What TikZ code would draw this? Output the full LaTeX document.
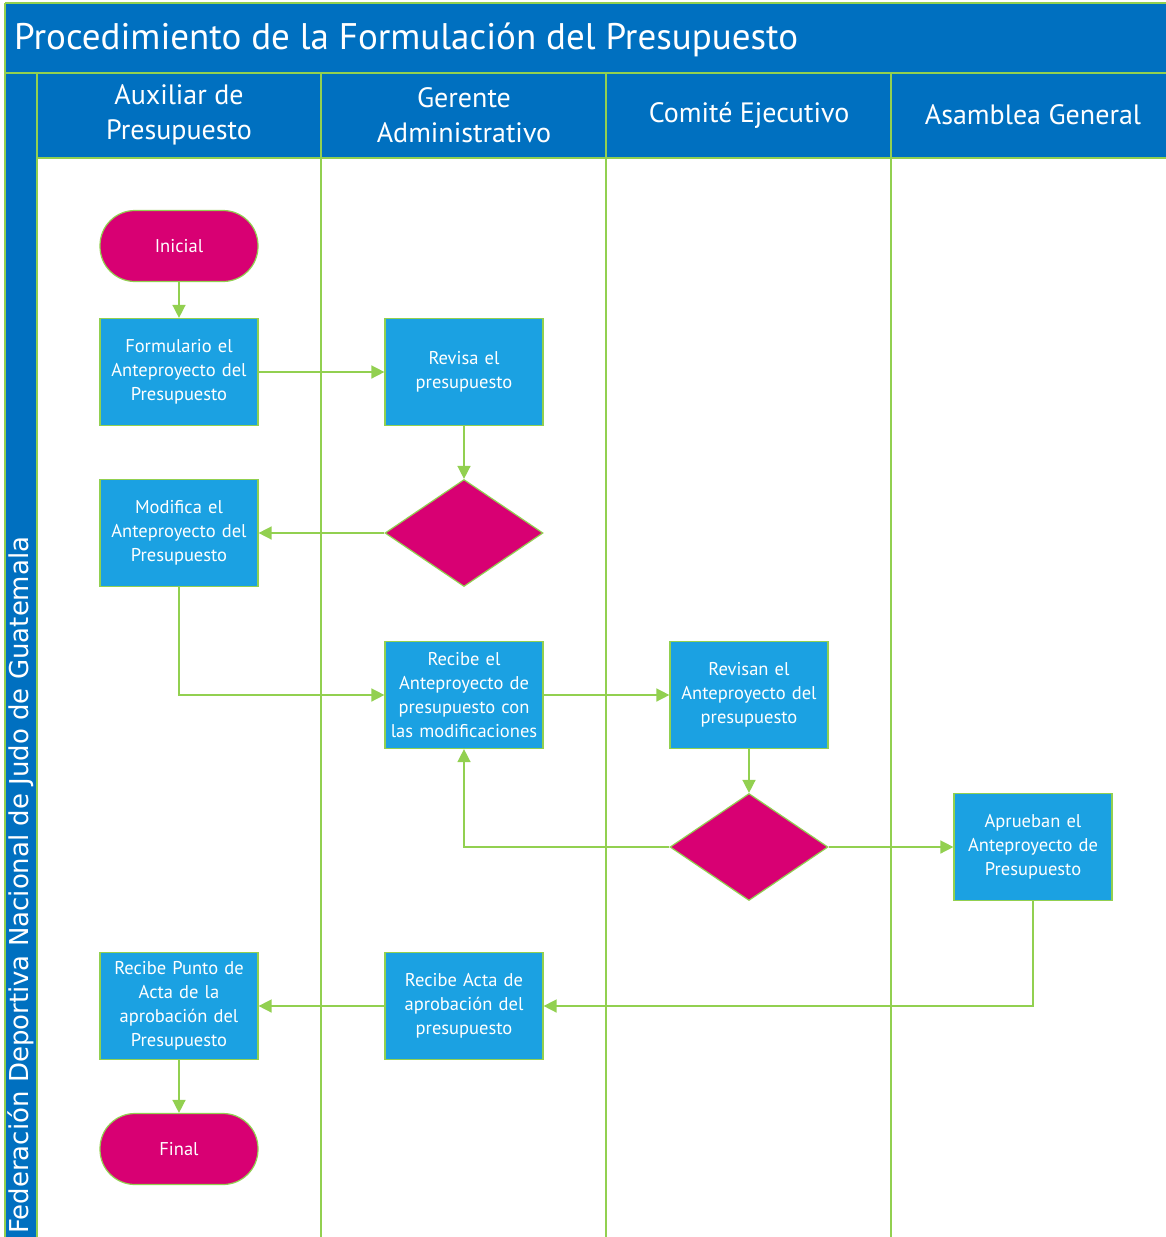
\documentclass[tikz,border=0pt]{standalone}
\usepackage{fontspec}
\setmainfont{PT Sans}
\newfontfamily\vfont{DejaVu Sans}
\usetikzlibrary{shapes.geometric,arrows.meta}
\definecolor{hdr}{HTML}{0070C0}
\definecolor{lgreen}{HTML}{92D050}
\definecolor{boxblue}{HTML}{1BA1E2}
\definecolor{mag}{HTML}{D80073}
\begin{document}
\begin{tikzpicture}[x=1pt,y=-1pt,
  proc/.style={draw=lgreen, line width=1.2pt, fill=boxblue, minimum width=158pt, minimum height=107pt, text=white, align=center, font=\fontsize{18.5}{24}\selectfont, inner sep=0pt, text width=156pt},
  term/.style={draw=lgreen, line width=1.2pt, fill=mag, minimum width=158pt, minimum height=71pt, rounded corners=35pt, text=white, font=\fontsize{18.5}{24}\selectfont},
  dec/.style={draw=lgreen, line width=1.2pt, fill=mag, diamond, minimum width=158pt, minimum height=107pt, inner sep=0pt},
  flow/.style={draw=lgreen, line width=1.5pt, -{Triangle[length=13pt,width=13pt]}},
  lane/.style={draw=lgreen, line width=1.3pt},
  hdrtext/.style={text=white, align=center, font=\fontsize{28}{35}\selectfont, inner sep=0pt}
]
\fill[white] (0,0) rectangle (1166,1237);
\useasboundingbox (0,0) rectangle (1166,1237);
% bars
\fill[hdr] (5,3) rectangle (1166,73);
\fill[hdr] (37,73) rectangle (1166,158);
\fill[hdr] (5,73) rectangle (37,1237);
% frame lines
\draw[lane] (5,3) -- (1166,3);
\draw[lane] (5,3) -- (5,1237);
\draw[lane] (5,73) -- (1166,73);
\draw[lane] (37,158) -- (1166,158);
\draw[lane] (37,73) -- (37,1237);
\draw[lane] (321,73) -- (321,1237);
\draw[lane] (606,73) -- (606,1237);
\draw[lane] (891,73) -- (891,1237);
% texts
\node[anchor=base west, text=white, font=\fontsize{37}{40}\selectfont, inner sep=0pt] (title) at (14,49) {Procedimiento de la Formulación del Presupuesto};
\node[hdrtext] (h1) at (179,115) {Auxiliar de\\Presupuesto};
\node[hdrtext] (h2) at (464,115) {Gerente\\Administrativo};
\node[hdrtext] (h3) at (749,115) {Comité Ejecutivo};
\node[hdrtext] (h4) at (1033,115) {Asamblea General};
\node[rotate=90, anchor=base west, text=white, font=\vfont\fontsize{26}{30}\selectfont, inner sep=0pt] (org) at (28,1234) {Federación Deportiva Nacional de Judo de Guatemala};
% nodes
\node[term] (ini) at (179,246) {Inicial};
\node[proc] (form) at (179,372) {Formulario el\\Anteproyecto del\\Presupuesto};
\node[proc] (rev) at (464,372) {Revisa el\\presupuesto};
\node[dec] (d1) at (464,533) {};
\node[proc] (mod) at (179,533) {Modifica el\\Anteproyecto del\\Presupuesto};
\node[proc] (rec) at (464,695) {Recibe el\\Anteproyecto de\\presupuesto con\\las modificaciones};
\node[proc] (revn) at (749,695) {Revisan el\\Anteproyecto del\\presupuesto};
\node[dec] (d2) at (749,847) {};
\node[proc] (apr) at (1033,847) {Aprueban el\\Anteproyecto de\\Presupuesto};
\node[proc] (acta) at (464,1006) {Recibe Acta de\\aprobación del\\presupuesto};
\node[proc] (punto) at (179,1006) {Recibe Punto de\\Acta de la\\aprobación del\\Presupuesto};
\node[term] (fin) at (179,1149) {Final};
% connectors
\draw[flow] (ini) -- (form);
\draw[flow] (form) -- (rev);
\draw[flow] (rev) -- (d1);
\draw[flow] (d1) -- (mod);
\draw[flow] (mod.south) |- (rec.west);
\draw[flow] (rec) -- (revn);
\draw[flow] (revn) -- (d2);
\draw[flow] (d2.west) -| (rec.south);
\draw[flow] (d2) -- (apr);
\draw[flow] (apr.south) |- (acta.east);
\draw[flow] (acta) -- (punto);
\draw[flow] (punto) -- (fin);
\end{tikzpicture}
\end{document}
